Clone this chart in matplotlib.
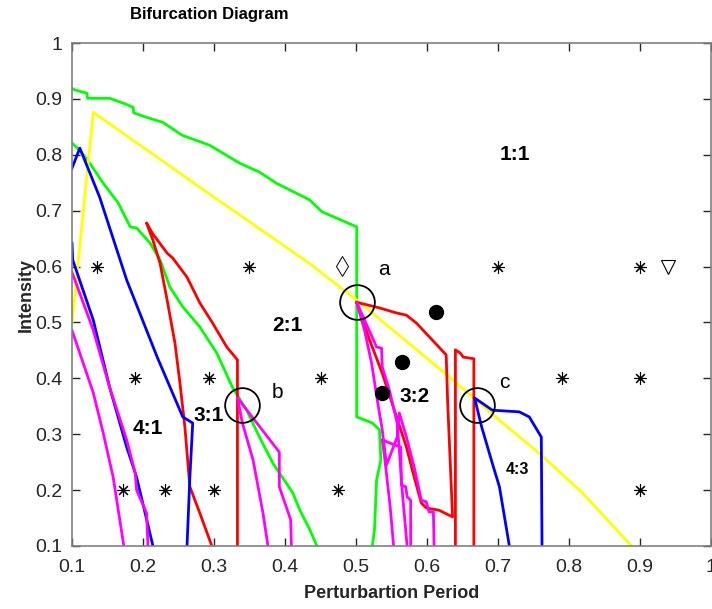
import numpy as np
import matplotlib
matplotlib.use('Agg')
import matplotlib.pyplot as plt

plt.rcParams['font.family'] = ['Liberation Sans', 'DejaVu Sans']

# boundary curves (x = perturbation period, y = intensity)
green1_x = [0.1, 0.104, 0.121, 0.122, 0.153, 0.175, 0.186, 0.187, 0.205, 0.228, 0.248, 0.255, 0.294,
            0.336, 0.364, 0.388, 0.435, 0.452, 0.501, 0.501, 0.513, 0.523, 0.533, 0.535, 0.529, 0.526, 0.523]
green1_y = [0.919, 0.916, 0.910, 0.901, 0.901, 0.891, 0.885, 0.875, 0.867, 0.858, 0.841, 0.835, 0.817,
            0.785, 0.769, 0.749, 0.719, 0.698, 0.671, 0.331, 0.325, 0.320, 0.308, 0.254, 0.218, 0.129, 0.1]

green2_x = [0.1, 0.111, 0.125, 0.144, 0.165, 0.182, 0.191, 0.210, 0.224, 0.238, 0.256, 0.280, 0.304,
            0.326, 0.346, 0.364, 0.383, 0.411, 0.421, 0.435, 0.445]
green2_y = [0.821, 0.808, 0.785, 0.749, 0.714, 0.671, 0.669, 0.642, 0.612, 0.563, 0.528, 0.492, 0.445,
            0.384, 0.343, 0.295, 0.248, 0.195, 0.164, 0.129, 0.1]

yellow_x = [0.1, 0.130, 0.280, 0.435, 0.501, 0.632, 0.702, 0.758, 0.819, 0.888]
yellow_y = [0.499, 0.876, 0.742, 0.605, 0.540, 0.402, 0.325, 0.266, 0.195, 0.1]

blue1_x = [0.1, 0.111, 0.139, 0.177, 0.220, 0.256, 0.270, 0.269, 0.266, 0.262]
blue1_y = [0.776, 0.812, 0.724, 0.576, 0.438, 0.331, 0.320, 0.295, 0.223, 0.1]

blue2_x = [0.1, 0.101, 0.130, 0.153, 0.177, 0.191, 0.214]
blue2_y = [0.642, 0.612, 0.504, 0.384, 0.277, 0.223, 0.1]

blue3_x = [0.716, 0.702, 0.692, 0.677, 0.667, 0.692, 0.730, 0.744, 0.761, 0.762]
blue3_y = [0.1, 0.206, 0.248, 0.313, 0.365, 0.343, 0.340, 0.331, 0.295, 0.1]

red1_x = [0.297, 0.280, 0.266, 0.259, 0.252, 0.245, 0.234, 0.224, 0.214, 0.205, 0.213, 0.234, 0.242,
          0.262, 0.280, 0.298, 0.318, 0.333, 0.333]
red1_y = [0.1, 0.159, 0.206, 0.313, 0.392, 0.463, 0.540, 0.606, 0.647, 0.678, 0.660, 0.624, 0.615,
          0.581, 0.535, 0.499, 0.456, 0.433, 0.1]

red2_x = [0.501, 0.533, 0.557, 0.571, 0.585, 0.627, 0.629, 0.636, 0.617, 0.599, 0.592, 0.582, 0.571,
          0.554, 0.537, 0.519, 0.501]
red2_y = [0.536, 0.526, 0.517, 0.513, 0.499, 0.442, 0.361, 0.152, 0.164, 0.168, 0.177, 0.223, 0.277,
          0.343, 0.409, 0.469, 0.536]

red3_x = [0.640, 0.640, 0.647, 0.651, 0.666, 0.666]
red3_y = [0.1, 0.451, 0.445, 0.438, 0.435, 0.1]

mag1_x = [0.1, 0.111, 0.130, 0.144, 0.158, 0.173]
mag1_y = [0.486, 0.445, 0.374, 0.302, 0.223, 0.1]

mag2_x = [0.1, 0.130, 0.153, 0.177, 0.189, 0.191, 0.205, 0.207]
mag2_y = [0.590, 0.486, 0.384, 0.290, 0.231, 0.200, 0.159, 0.1]

mag3_x = [0.376, 0.369, 0.355, 0.340, 0.333, 0.392, 0.392, 0.408, 0.409]
mag3_y = [0.1, 0.159, 0.254, 0.320, 0.365, 0.268, 0.206, 0.147, 0.1]

mag4_x = [0.572, 0.565, 0.561, 0.558, 0.547, 0.537, 0.536, 0.529, 0.501, 0.512, 0.522, 0.530, 0.537,
          0.543, 0.558, 0.561, 0.571, 0.582, 0.592, 0.599, 0.603, 0.609, 0.610]
mag4_y = [0.1, 0.200, 0.272, 0.320, 0.379, 0.420, 0.454, 0.456, 0.536, 0.486, 0.427, 0.361, 0.308,
          0.245, 0.295, 0.338, 0.295, 0.241, 0.182, 0.179, 0.161, 0.161, 0.1]

mag5_x = [0.553, 0.548, 0.540, 0.537, 0.550, 0.563, 0.564, 0.570, 0.572, 0.577, 0.577]
mag5_y = [0.1, 0.172, 0.262, 0.290, 0.283, 0.277, 0.209, 0.206, 0.188, 0.182, 0.1]

# sample points
star_x = [0.135, 0.350, 0.700, 0.900, 0.189, 0.293, 0.450, 0.790, 0.900, 0.172, 0.231, 0.300, 0.475, 0.900]
star_y = [0.6, 0.6, 0.6, 0.6, 0.4, 0.4, 0.4, 0.4, 0.4, 0.2, 0.2, 0.2, 0.2, 0.2]
dot_x = [0.612, 0.565, 0.537]
dot_y = [0.519, 0.429, 0.374]
diamond = (0.480, 0.601)
triangle = (0.940, 0.600)
ring_x = [0.501, 0.339, 0.671]
ring_y = [0.536, 0.352, 0.352]
ring_names = ['a', 'b', 'c']
ring_name_x = [0.540, 0.390, 0.709]
ring_name_y = [0.594, 0.374, 0.393]

regions = ['1:1', '2:1', '3:1', '4:1', '3:2', '4:3']
region_x = [0.724, 0.404, 0.293, 0.207, 0.582, 0.727]
region_y = [0.800, 0.495, 0.334, 0.311, 0.367, 0.236]
region_size = [15, 15, 15, 15, 15, 11.5]

tick_labels = ['0.1', '0.2', '0.3', '0.4', '0.5', '0.6', '0.7', '0.8', '0.9', '1']

fig = plt.figure(figsize=(7.12, 6.09), dpi=100)
ax = fig.add_axes([72/712, 63/609, 639/712, 503/609])

lw = 2.0
ax.plot(green1_x, green1_y, color='#00ff00', lw=lw)
ax.plot(green2_x, green2_y, color='#00ff00', lw=lw)
ax.plot(yellow_x, yellow_y, color='#ffff00', lw=lw)
ax.plot(red1_x, red1_y, color='#ff0000', lw=lw)
ax.plot(red2_x, red2_y, color='#ff0000', lw=lw)
ax.plot(red3_x, red3_y, color='#ff0000', lw=lw)
ax.plot(blue1_x, blue1_y, color='#0000ff', lw=lw)
ax.plot(blue2_x, blue2_y, color='#0000ff', lw=lw)
ax.plot(blue3_x, blue3_y, color='#0000ff', lw=lw)
for mx, my in [(mag1_x, mag1_y), (mag2_x, mag2_y), (mag3_x, mag3_y), (mag4_x, mag4_y), (mag5_x, mag5_y)]:
    ax.plot(mx, my, color='#ff00ff', lw=lw)

ax.plot(star_x, star_y, ls='none', marker=(8, 2, 0), ms=9, mec='k', mew=0.8)
ax.plot(dot_x, dot_y, ls='none', marker='o', ms=10, color='k')
ax.plot(*diamond, marker='d', ms=10, mfc='none', mec='k', mew=0.7)
ax.plot(*triangle, marker='v', ms=10, mfc='none', mec='k', mew=0.8)
ax.plot(ring_x, ring_y, ls='none', marker='o', ms=25, mfc='none', mec='k', mew=1.3)

for name, tx, ty in zip(ring_names, ring_name_x, ring_name_y):
    ax.text(tx, ty, name, fontsize=15, ha='center', va='center')
for name, tx, ty, fs in zip(regions, region_x, region_y, region_size):
    ax.text(tx, ty, name, fontsize=fs, fontweight='bold', ha='center', va='center')

ax.set_xlim(0.1, 1.0)
ax.set_ylim(0.1, 1.0)
ax.set_xticks(np.arange(0.1, 1.01, 0.1))
ax.set_xticklabels(tick_labels)
ax.set_yticks(np.arange(0.1, 1.01, 0.1))
ax.set_yticklabels(tick_labels)
ax.tick_params(direction='in', top=True, right=True, labelsize=14, colors='#262626',
               length=6, width=1)
ax.tick_params(axis='x', pad=9)
ax.tick_params(axis='y', pad=7)
for s in ax.spines.values():
    s.set_color('#808080')
    s.set_linewidth(1.2)

ax.set_xlabel('Perturbartion Period', fontsize=13, fontweight='bold', color='#262626', labelpad=7)
ax.set_ylabel('Intensity', fontsize=13, fontweight='bold', color='#262626', labelpad=0)
fig.text(209/712, 1 - 15/609, 'Bifurcation Diagram', fontsize=12, fontweight='bold',
         ha='center', va='center')

fig.savefig('out.png', dpi=100)
